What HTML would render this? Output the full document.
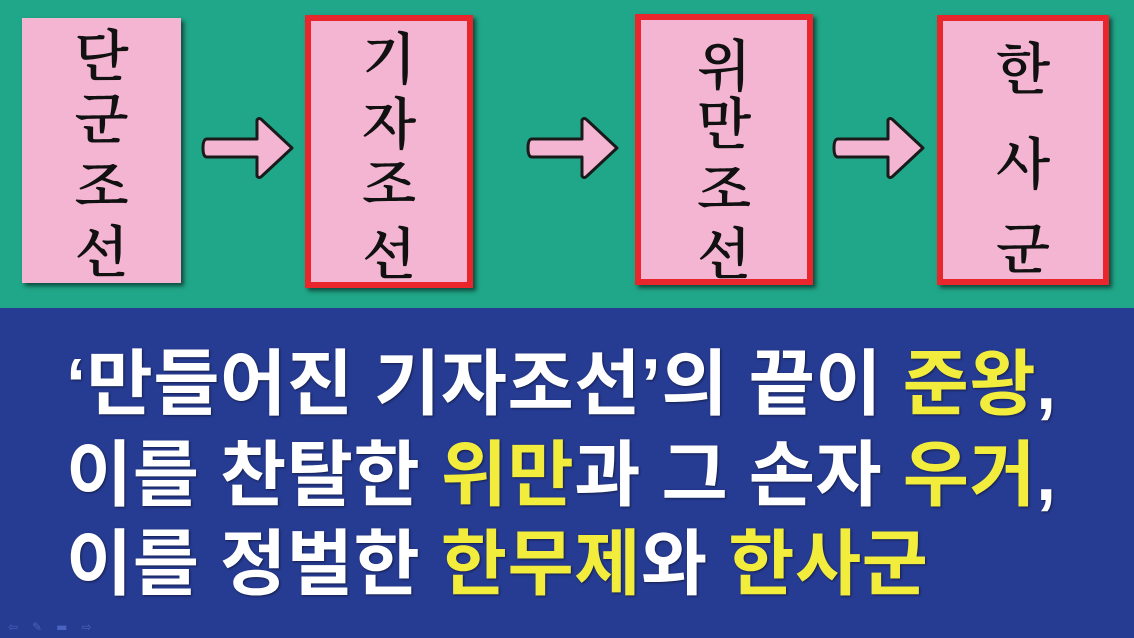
<!DOCTYPE html>
<html><head><meta charset="utf-8"><style>
html,body{margin:0;padding:0}
body{width:1134px;height:638px;position:relative;overflow:hidden;background:#263b92}
#top{position:absolute;left:0;top:0;width:1134px;height:308px;background:#20a688}
.box{position:absolute;background:#f4b5d2;box-shadow:3px 3px 4px rgba(0,0,0,.55);box-sizing:border-box}
.red{border:6px solid #e8262b}
.ch{position:absolute;left:0;width:100%;text-align:center;font-family:"Noto Serif CJK SC","Noto Serif CJK KR",serif;font-size:56px;line-height:50px;color:#111;font-weight:600}
.line{position:absolute;left:66px;font-family:"Liberation Sans","Noto Sans CJK KR",sans-serif;font-weight:700;font-size:72px;line-height:88px;color:#fff;letter-spacing:0.5px;white-space:nowrap;text-shadow:1px 1px 2px rgba(0,0,0,.5)}
.y{color:#f2ec3c}
</style></head><body>
<div id="top"></div>
<div class="box" style="left:22px;top:18px;width:159px;height:265px">
 <div class="ch" style="top:10px">단</div><div class="ch" style="top:73px">군</div><div class="ch" style="top:140px">조</div><div class="ch" style="top:206px">선</div>
</div>
<div class="box red" style="left:305px;top:15px;width:168px;height:273px">
 <div class="ch" style="top:10px">기</div><div class="ch" style="top:75px">자</div><div class="ch" style="top:135px">조</div><div class="ch" style="top:205px">선</div>
</div>
<div class="box red" style="left:635px;top:14px;width:178px;height:271px">
 <div class="ch" style="top:18px">위</div><div class="ch" style="top:76px">만</div><div class="ch" style="top:141px">조</div><div class="ch" style="top:206px">선</div>
</div>
<div class="box red" style="left:937px;top:15px;width:172px;height:270px">
 <div class="ch" style="top:20px">한</div><div class="ch" style="top:115px">사</div><div class="ch" style="top:200px">군</div>
</div>
<svg width="1134" height="308" style="position:absolute;left:0;top:0">
 <defs><path id="ar" d="M0,-9 L50,-9 L50,-28 Q52,-31 55,-28 L85,0 L55,28 Q52,31 50,28 L50,9 L0,9 Q-4,9 -4,0 Q-4,-9 0,-9 Z" fill="#f4b5d2" stroke="#1a1a1a" stroke-width="3" stroke-linejoin="round"/></defs>
 <use href="#ar" x="207" y="148"/>
 <use href="#ar" x="532" y="148"/>
 <use href="#ar" x="838" y="148"/>
</svg>
<div class="line" style="top:341px">‘만들어진 기자조선’의 끝이 <span class="y">준왕</span>,</div>
<div class="line" style="top:432px">이를 찬탈한 <span class="y">위만</span>과 그 손자 <span class="y">우거</span>,</div>
<div class="line" style="top:521px">이를 정벌한 <span class="y">한무제</span>와 <span class="y">한사군</span></div>
<div style="position:absolute;left:8px;top:620px;font-size:12px;color:#4a62c0;font-family:'DejaVu Sans',sans-serif;letter-spacing:14px">⇦✎▬⇨</div>
</body></html>
